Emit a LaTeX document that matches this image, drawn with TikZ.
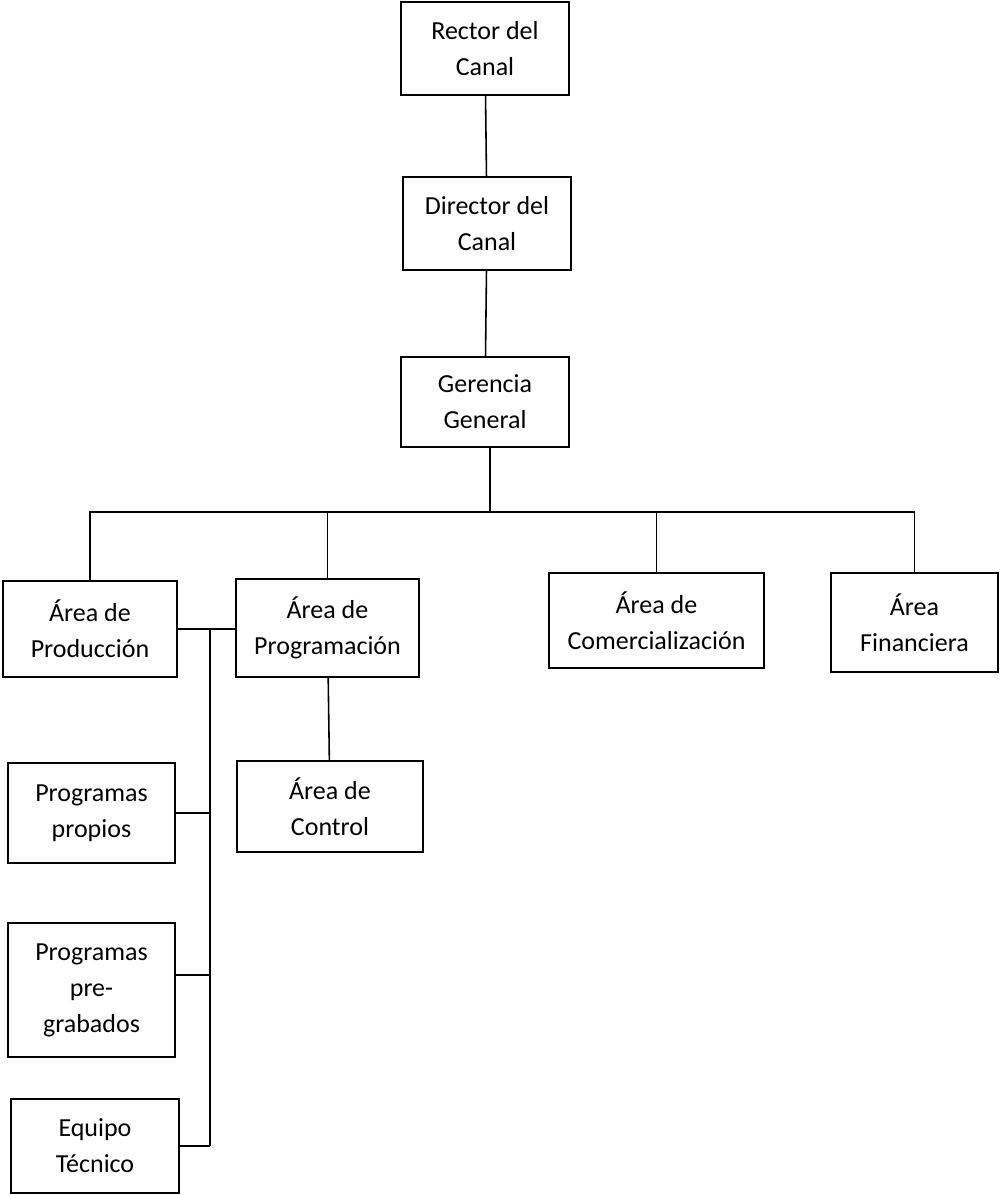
\documentclass[tikz,border=0pt]{standalone}
\usepackage{fontspec}
\setmainfont{Carlito}
\tikzset{
  caja/.style={draw, line width=0.8pt, align=center, inner sep=0pt,
    font=\fontsize{14.8pt}{20.5pt}\selectfont},
  linea/.style={line width=0.9pt}
}
\begin{document}
\begin{tikzpicture}[x=0.02cm,y=-0.02cm]
\useasboundingbox (0,0) rectangle (1000,1195);
% Organigrama del canal
\node[caja,minimum width=3.36cm,minimum height=1.86cm] (rector) at (485,48.5) {Rector del\\Canal};
\node[caja,minimum width=3.36cm,minimum height=1.86cm] (director) at (487,223.5) {Director del\\Canal};
\node[caja,minimum width=3.36cm,minimum height=1.80cm] (gerencia) at (485,402) {Gerencia\\General};

\node[caja,minimum width=3.48cm,minimum height=1.92cm] (produccion) at (90,629) {Área de\\Producción};
\node[caja,minimum width=3.66cm,minimum height=1.96cm] (programacion) at (327.5,628) {Área de\\Programación};
\node[caja,minimum width=4.30cm,minimum height=1.90cm] (comercial) at (656.5,620.5) {Área de\\Comercialización};
\node[caja,minimum width=3.34cm,minimum height=1.98cm] (financiera) at (914.5,622.5) {Área\\Financiera};

\node[caja,minimum width=3.34cm,minimum height=2.00cm] (propios) at (91.5,813) {Programas\\propios};
\node[caja,minimum width=3.34cm,minimum height=2.68cm] (pregrabados) at (91.5,990) {Programas\\pre-\\grabados};
\node[caja,minimum width=3.36cm,minimum height=1.88cm] (equipo) at (95,1146) {Equipo\\Técnico};
\node[caja,minimum width=3.72cm,minimum height=1.82cm] (control) at (330,806.5) {Área de\\Control};

\coordinate (bus) at (490,512);
\coordinate (tronco) at (210,629);

\draw[linea] (rector) -- (director);
\draw[linea] (director) -- (gerencia);
\draw[linea] (gerencia.south -| bus) -- (bus);
\draw[linea] (produccion.north) |- (bus) -| (financiera.north);
\draw[linea] (programacion.north) -- (programacion.north |- bus);
\draw[linea] (comercial.north) -- (comercial.north |- bus);
\draw[linea] (programacion) -- (control);
\draw[linea] (produccion.east) -- (programacion.west |- produccion.east);
\draw[linea] (tronco) -- (tronco |- equipo.east);
\draw[linea] (propios.east) -- (propios.east -| tronco);
\draw[linea] ([yshift=0.3cm]pregrabados.east) -- ([yshift=0.3cm]pregrabados.east -| tronco);
\draw[linea] (equipo.east) -- (equipo.east -| tronco);
\end{tikzpicture}
\end{document}
